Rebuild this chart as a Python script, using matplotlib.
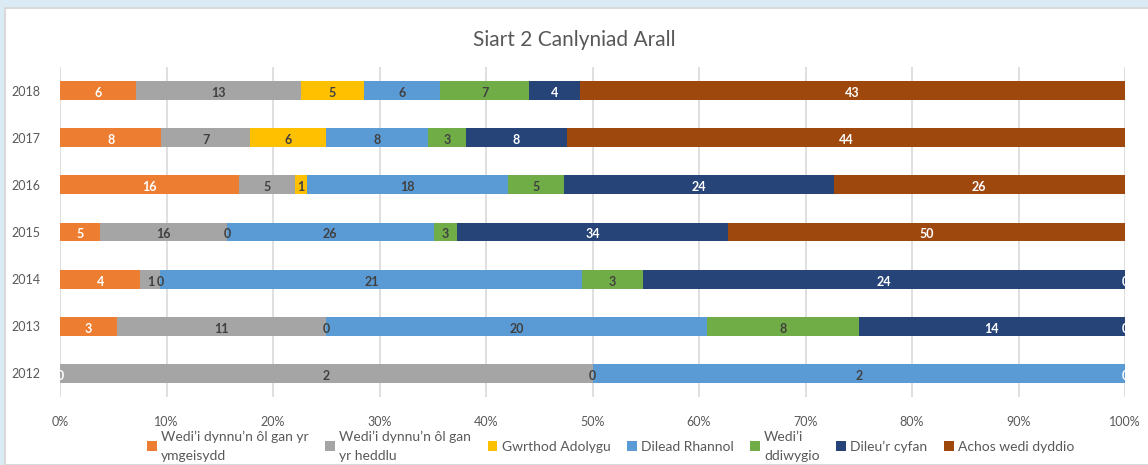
import matplotlib
import matplotlib.pyplot as plt
import numpy as np
from matplotlib.patches import Rectangle
matplotlib.use('Agg')

plt.rcParams['font.family'] = ['Lato', 'DejaVu Sans']

years = ['2012', '2013', '2014', '2015', '2016', '2017', '2018']

series_names = ['Wedi\u2019i dynnu\u2019n ôl gan yr\nymgeisydd',
                'Wedi\u2019i dynnu\u2019n ôl gan\nyr heddlu',
                'Gwrthod Adolygu',
                'Dilead Rhannol',
                'Wedi\u2019i\nddiwygio',
                'Dileu\u2019r cyfan',
                'Achos wedi dyddio']

tynnu_ymgeisydd = [0, 3, 4, 5, 16, 8, 6]
tynnu_heddlu = [2, 11, 1, 16, 5, 7, 13]
gwrthod = [0, 0, 0, 0, 1, 6, 5]
rhannol = [2, 20, 21, 26, 18, 8, 6]
diwygio = [0, 8, 3, 3, 5, 3, 7]
cyfan = [0, 14, 24, 34, 24, 8, 4]
dyddio = [0, 0, 0, 50, 26, 44, 43]

colors = ['#ED7D31', '#A5A5A5', '#FFC000', '#5B9BD5', '#70AD47', '#264478', '#9E480E']
text_colors = ['white', '#404040', '#404040', '#404040', '#404040', 'white', 'white']

# zero values only shown where Excel shows them
zero_shown = {(0, 0), (2, 0), (2, 1), (2, 2), (2, 3), (6, 0), (6, 1), (6, 2)}


def plot():
    data = np.array([tynnu_ymgeisydd, tynnu_heddlu, gwrthod, rhannol,
                     diwygio, cyfan, dyddio], dtype=float)
    totals = data.sum(axis=0)
    pct = data / totals * 100

    fig = plt.figure(figsize=(11.48, 4.65), dpi=100)
    fig.patch.set_facecolor('#DAEBF5')
    bg = Rectangle((5 / 1148, 0), 1, 1 - 8 / 465,
                   transform=fig.transFigure, facecolor='white',
                   edgecolor='#D9D9D9', linewidth=1.5, zorder=-10)
    fig.patches.append(bg)

    ax = fig.add_axes([60 / 1148, 1 - 397 / 465, 1065 / 1148, 330 / 465])
    ax.set_facecolor('none')
    y = np.arange(len(years))
    left = np.zeros(len(years))
    handles = []
    for i in range(len(data)):
        b = ax.barh(y, pct[i], left=left, height=0.4, color=colors[i],
                    label=series_names[i], zorder=3)
        handles.append(b)
        for j in range(len(years)):
            v = data[i][j]
            if v == 0 and (i, j) not in zero_shown:
                continue
            xc = left[j] + pct[i][j] / 2
            if v == 0:
                xc = left[j]
            ax.text(xc, y[j] - 0.05, '%d' % v, ha='center', va='center',
                    fontsize=9, fontweight='bold', color=text_colors[i], zorder=4)
        left += pct[i]

    ax.set_xlim(0, 100)
    ax.set_ylim(-0.5, 6.5)
    ax.set_yticks(y)
    ax.set_yticklabels(years)
    ax.set_xticks(np.arange(0, 101, 10))
    ax.set_xticklabels(['%d%%' % v for v in range(0, 101, 10)])
    ax.tick_params(axis='both', length=0, labelsize=9, colors='#595959')
    ax.tick_params(axis='x', pad=14)
    ax.tick_params(axis='y', pad=14)
    ax.grid(axis='x', color='#D9D9D9', linewidth=1.2, zorder=0)
    for s in ax.spines.values():
        s.set_visible(False)

    fig.text(0.5, 1 - 40 / 465, 'Siart 2 Canlyniad Arall', ha='center',
             va='center', fontsize=15, color='#595959')

    leg = fig.legend(handles=handles, loc='center', bbox_to_anchor=(0.532, 1 - 446 / 465),
                     ncol=7, frameon=False, fontsize=10, handlelength=0.7,
                     handleheight=0.7, handletextpad=0.3, columnspacing=1.2,
                     labelcolor='#595959')
    for t in leg.get_texts():
        t.set_linespacing(1.7)

    fig.savefig('out.png', dpi=100, facecolor=fig.get_facecolor())


plot()
